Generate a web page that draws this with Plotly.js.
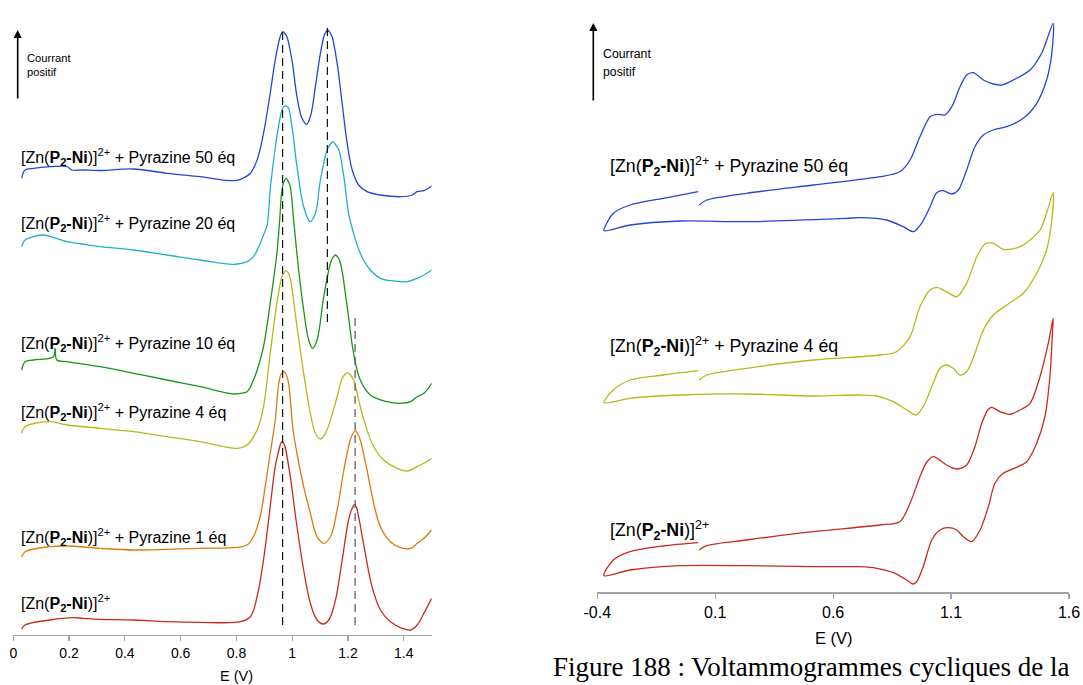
<!DOCTYPE html>
<html>
<head>
<meta charset="utf-8">
<script src="https://cdn.plot.ly/plotly-3.0.1.min.js"></script>
<style>html,body{margin:0;padding:0;background:#fff;}#chart{width:1083px;height:685px;}</style>
</head>
<body>
<div id="chart"></div>
<script>
// ---------- Left panel : DPV curves (E in V, current in arbitrary units, offset stacked) ----------
const dpv_E_50 = [0.030,0.042,0.072,0.132,0.192,0.210,0.250,0.311,0.430,0.551,0.670,0.789,0.814,0.850,0.874,0.897,0.921,0.939,0.955,0.961,0.967,0.974,0.981,0.999,1.017,1.035,1.051,1.065,1.083,1.101,1.115,1.121,1.127,1.135,1.143,1.161,1.179,1.197,1.215,1.238,1.268,1.316,1.388,1.430,1.448,1.472,1.500];
const dpv_I_50 = [456.7,465,466.7,468.3,468.5,465,465,464.5,466,461.7,458.3,454.3,455.7,461.7,475,501.7,541.7,575,596.7,601.5,603.3,601.5,598.3,575,538.3,516.7,510.7,518.3,548.3,581.7,600,603,605,602.5,598.3,571.7,531.7,491.7,465,450,443.3,440,438.3,440,443.3,444.3,449];

const dpv_E_20 = [0.030,0.042,0.072,0.108,0.192,0.246,0.311,0.431,0.551,0.670,0.790,0.838,0.861,0.878,0.897,0.910,0.921,0.939,0.955,0.967,0.973,0.985,0.999,1.017,1.041,1.065,1.083,1.101,1.125,1.136,1.146,1.156,1.167,1.185,1.202,1.220,1.244,1.280,1.316,1.364,1.412,1.448,1.472,1.500];
const dpv_I_20 = [388.3,395,398.3,400,393.3,391,388.3,385,380,375,370.7,373.3,378.3,387,400,410,445,487,515,527.7,529,527.7,508.3,468.3,428.3,413.3,421.7,455,485,490.5,493.3,490,485,458.3,421.7,401.7,381.7,365,356.7,354,353.3,356.7,360,365];

const dpv_E_10 = [0.030,0.042,0.072,0.144,0.150,0.156,0.192,0.311,0.431,0.551,0.670,0.790,0.814,0.838,0.861,0.880,0.897,0.921,0.945,0.955,0.963,0.970,0.978,0.986,0.993,1.005,1.023,1.041,1.059,1.073,1.089,1.113,1.137,1.146,1.155,1.164,1.173,1.197,1.220,1.244,1.280,1.340,1.388,1.424,1.448,1.472,1.500];
const dpv_I_10 = [265,273.3,275,278.3,286.7,275,273.3,268.3,261.7,255,248.3,241,241.7,243.3,255,270,288.3,331.7,381.7,415,445,453,456.7,453.5,448.3,415,365,325,295,286.7,295,338.3,371.7,377.5,380,377.5,371.7,328.3,281.7,255,240,233.3,231.7,233.3,238.3,241.7,251.7];

const dpv_E_4 = [0.030,0.042,0.132,0.192,0.311,0.431,0.551,0.670,0.802,0.838,0.874,0.897,0.921,0.945,0.963,0.971,0.978,0.986,0.993,1.017,1.041,1.065,1.083,1.101,1.119,1.137,1.161,1.179,1.189,1.199,1.210,1.220,1.244,1.268,1.292,1.328,1.376,1.412,1.448,1.472,1.500];
const dpv_I_4 = [201.7,208.3,213.3,210,206.7,203.3,198.3,193.3,186.7,190,205,228.3,281.7,331.7,358.3,362.5,364.3,362,356.7,308.3,261.7,221.7,201.7,196,201.7,215,238.3,256.7,260.5,262.3,259.5,255,228.3,205,188.3,175,166.7,164,168.3,171.7,176.7];

const dpv_E_1 = [0.030,0.042,0.132,0.192,0.311,0.431,0.551,0.670,0.802,0.838,0.861,0.885,0.903,0.921,0.939,0.951,0.960,0.969,0.978,0.987,1.003,1.017,1.041,1.065,1.089,1.113,1.137,1.161,1.185,1.208,1.217,1.226,1.235,1.244,1.268,1.292,1.316,1.352,1.388,1.424,1.448,1.472,1.500];
const dpv_I_1 = [78.3,83.3,88.3,89,86.7,85,85.7,86.7,87.7,90,98.3,118.3,148.3,181.7,215,250,261,263.3,260.5,251.7,205,181.7,148.3,121.7,98.3,91.7,98.3,125,165,195,201,204.3,201,195,165,131.7,108.3,93.3,87.3,86.7,91.7,96.7,105];

const dpv_E_0 = [0.030,0.042,0.132,0.215,0.251,0.311,0.431,0.551,0.670,0.814,0.850,0.874,0.897,0.921,0.939,0.955,0.959,0.964,0.970,0.975,0.993,1.017,1.041,1.065,1.089,1.111,1.131,1.155,1.179,1.202,1.213,1.224,1.231,1.238,1.262,1.286,1.316,1.352,1.394,1.424,1.448,1.472,1.500];
const dpv_I_0 = [5.7,10,15,17.3,16.7,15.7,15,13.3,12.7,13.3,18.3,38.3,75,128.3,168.3,188,192,193.3,191.5,187.5,158.3,108.3,65,31.7,15,11,15,35,75,115,125.5,130.5,127,118.3,81.7,48.3,25,13.3,6.7,5,10,21.7,36.7];

// peak potential guides (V) and their vertical extents (current units)
const guide_E = [0.9655, 1.126, 1.2254];
const guide_lo = [10, 313, 10];
const guide_hi = [608, 608, 321];

// ---------- Right panel : cyclic voltammograms ----------
const cv_E_50 = [0.032,0.064,0.233,0.516,0.799,0.883,0.926,0.968,1.011,1.039,1.074,1.103,1.138,1.166,1.194,1.237,1.279,1.315,1.364,1.435,1.484,1.533,
  1.527,1.505,1.463,1.406,1.336,1.279,1.237,1.201,1.166,1.131,1.103,1.067,1.039,1.011,0.975,0.940,0.897,0.827,0.714,0.657,0.233,-0.049,-0.261,-0.372,
  -0.360,-0.332,-0.261,-0.120,0.028];
const cv_I_50 = [387.3,392.3,399,407.3,415.6,420.6,432.3,455.6,475.6,478,477.3,485.6,505.6,517.3,519.6,512.3,508.3,507.3,512.3,522.3,539,569,
  539,512.3,489,474,465.6,462.3,457.3,445.6,422.3,402.3,398.3,401.6,399.6,385.6,369,360.6,365.6,372.3,374.6,374,370.6,371.3,367.3,361.6,
  369,379,387.3,394,400.6];

const cv_E_4 = [0.032,0.064,0.233,0.516,0.799,0.869,0.926,0.968,1.011,1.039,1.081,1.124,1.166,1.209,1.244,1.279,1.321,1.392,1.477,1.533,
  1.527,1.505,1.463,1.406,1.336,1.279,1.237,1.201,1.166,1.138,1.109,1.079,1.053,1.018,0.982,0.951,0.912,0.855,0.785,0.714,0.516,0.233,-0.049,-0.261,-0.372,
  -0.332,-0.261,-0.120,0.028];
const cv_I_4 = [212.3,217.3,224,232.3,237.3,240.6,255.6,285.6,302.3,305,300.6,295.6,309,335.6,348.3,349,343,345.6,362.3,399.6,
  372.3,342.3,319,299,287.3,277.3,262.3,239,220.6,217.3,224,227.3,224,205.6,185.6,177.3,182.3,190.6,196.3,197.3,196.3,198.3,197.3,194,189.6,
  202.3,212.3,217.3,221.6];

const cv_E_0 = [0.032,0.064,0.233,0.516,0.799,0.883,0.926,0.968,0.997,1.025,1.081,1.124,1.166,1.201,1.230,1.258,1.272,1.307,1.350,1.392,1.435,1.477,1.512,1.533,
  1.529,1.519,1.498,1.463,1.421,1.378,1.321,1.286,1.258,1.223,1.187,1.152,1.124,1.088,1.053,1.018,0.982,0.954,0.937,0.912,0.855,0.785,0.714,0.516,0.233,-0.049,-0.261,-0.372,
  -0.332,-0.261,-0.120,0.028];
const cv_I_0 = [42.3,46.6,52.3,60.6,67.3,70.6,89,115.6,130.3,135.6,127.3,123.3,127.3,145.6,169,183,185,180.6,178,182.3,189,215.6,249,274,
  255.6,215.6,175.6,149,130.6,125,119,109,85.6,62.3,50.6,55.6,62.3,64.6,62.3,52.3,25.6,10.6,8.3,12.3,19.6,24,25.6,25.6,26.6,26.6,22.3,16.6,
  32.3,40.6,46.3,49.6];

const xticks_left = [0, 0.2, 0.4, 0.6, 0.8, 1, 1.2, 1.4];
const xticks_right = [-0.4, 0.1, 0.6, 1.1, 1.6];

const colors = {b50:'#2346d8', c20:'#1fb2c6', g10:'#16961c', y4:'#b7b81a', o1:'#e0780f', r0:'#c92a1c'};

// ---------- helpers for page placement ----------
const W = 1083, H = 685;
const px = v => v / W;
const py = v => (H - v) / H;

function line(x, y, color, xa, ya, sm) {
  return {x: x, y: y, type: 'scatter', mode: 'lines', xaxis: xa, yaxis: ya,
    line: {color: color, width: 1.3, shape: 'spline', smoothing: sm}, hoverinfo: 'skip', showlegend: false};
}

const traces = [
  line(dpv_E_50, dpv_I_50, colors.b50, 'x', 'y', 1),
  line(dpv_E_20, dpv_I_20, colors.c20, 'x', 'y', 1),
  line(dpv_E_10, dpv_I_10, colors.g10, 'x', 'y', 1),
  line(dpv_E_4, dpv_I_4, colors.y4, 'x', 'y', 1),
  line(dpv_E_1, dpv_I_1, colors.o1, 'x', 'y', 1),
  line(dpv_E_0, dpv_I_0, colors.r0, 'x', 'y', 1),
  line(cv_E_50, cv_I_50, colors.b50, 'x2', 'y2', 0.8),
  line(cv_E_4, cv_I_4, colors.y4, 'x2', 'y2', 0.8),
  line(cv_E_0, cv_I_0, colors.r0, 'x2', 'y2', 0.8)
];

const shapes = guide_E.map((e, i) => ({
  type: 'line', xref: 'x', yref: 'y', x0: e, x1: e, y0: guide_lo[i], y1: guide_hi[i],
  line: {color: i === 2 ? '#555555' : '#111111', width: 1.2, dash: '8px,5px'}
}));

const lbl = '[Zn(<b>P<sub>2</sub>-Ni</b>)]<sup>2+</sup>';
const leftLabels = [
  [lbl + ' + Pyrazine 50 éq', 156.7],
  [lbl + ' + Pyrazine 20 éq', 223],
  [lbl + ' + Pyrazine 10 éq', 343],
  [lbl + ' + Pyrazine 4 éq', 411.7],
  [lbl + ' + Pyrazine 1 éq', 536.7],
  [lbl, 603]
];
const rightLabels = [
  [lbl + ' + Pyrazine 50 éq', 166.7],
  [lbl + ' + Pyrazine 4 éq', 346],
  [lbl, 530]
];
const FONT = 'Arial, "Liberation Sans", sans-serif';
const annotations = [];
leftLabels.forEach(l => annotations.push({xref:'paper', yref:'paper', x: px(19), y: py(l[1]), xanchor:'left', yanchor:'middle',
  text: l[0], showarrow:false, font:{family:FONT, size:16, color:'#000'}}));
rightLabels.forEach(l => annotations.push({xref:'paper', yref:'paper', x: px(608), y: py(l[1]), xanchor:'left', yanchor:'middle',
  text: l[0], showarrow:false, font:{family:FONT, size:17.8, color:'#000'}}));

// "Courrant positif" arrows and text
[[17.7, 30, 100, 25, 58.3, 72.3, 11.2], [593.3, 23, 102, 601, 54.3, 71.7, 12.3]].forEach(a => {
  annotations.push({xref:'paper', yref:'paper', x: px(a[0]), y: py(a[1]), ax: 0, ay: a[2]-a[1], axref:'pixel', ayref:'pixel',
    text:'', showarrow:true, arrowhead:2, arrowsize:1, arrowwidth:1.6, arrowcolor:'#000', standoff:0, startstandoff:0});
  annotations.push({xref:'paper', yref:'paper', x: px(a[3]), y: py(a[4]), xanchor:'left', yanchor:'middle', text:'Courrant',
    showarrow:false, font:{family:FONT, size:a[6], color:'#000'}});
  annotations.push({xref:'paper', yref:'paper', x: px(a[3]), y: py(a[5]), xanchor:'left', yanchor:'middle', text:'positif',
    showarrow:false, font:{family:FONT, size:a[6], color:'#000'}});
});
// axis titles
annotations.push({xref:'paper', yref:'paper', x: px(236.7), y: py(676), xanchor:'center', yanchor:'middle', text:'E (V)',
  showarrow:false, font:{family:FONT, size:14.5, color:'#000'}});
annotations.push({xref:'paper', yref:'paper', x: px(834), y: py(638), xanchor:'center', yanchor:'middle', text:'E (V)',
  showarrow:false, font:{family:FONT, size:16.5, color:'#000'}});
// caption
annotations.push({xref:'paper', yref:'paper', x: px(551), y: py(650), xanchor:'left', yanchor:'top',
  text:'Figure 188 : Voltammogrammes cycliques de la', showarrow:false,
  font:{family:'"Liberation Serif", "Times New Roman", serif', size:27, color:'#000'}});

const axisCommon = {showgrid:false, zeroline:false, showline:true, linecolor:'#a3a3a3', linewidth:1.2,
  ticks:'outside', ticklen:5, tickcolor:'#a3a3a3', tickwidth:1.2, fixedrange:true};

const layout = {
  width: W, height: H, margin: {l:0, r:0, t:0, b:0},
  paper_bgcolor: '#ffffff', plot_bgcolor: 'rgba(0,0,0,0)', showlegend: false,
  xaxis: Object.assign({}, axisCommon, {domain:[px(13.3), px(431.7)], range:[0, 1.5], anchor:'y',
    tickvals: xticks_left, ticktext: xticks_left.map(String), tickfont:{family:FONT, size:14, color:'#000'}}),
  yaxis: {domain:[py(635), py(20)], range:[0, 615], visible:false, anchor:'x', fixedrange:true},
  xaxis2: Object.assign({}, axisCommon, {domain:[px(597.3), px(1069)], range:[-0.4, 1.6], anchor:'y2',
    tickvals: xticks_right, ticktext: xticks_right.map(String), tickfont:{family:FONT, size:16, color:'#000'}}),
  yaxis2: {domain:[py(592.3), py(20)], range:[0, 572.3], visible:false, anchor:'x2', fixedrange:true},
  shapes: shapes,
  annotations: annotations
};

Plotly.newPlot('chart', traces, layout, {staticPlot:true, displayModeBar:false});
</script>
</body>
</html>
